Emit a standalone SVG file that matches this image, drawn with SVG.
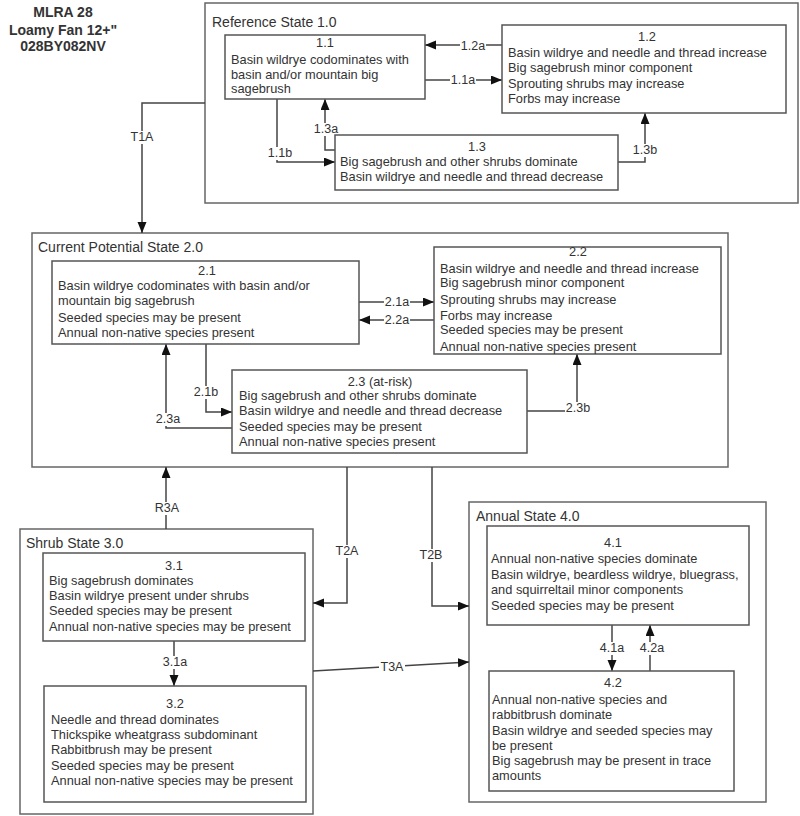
<svg xmlns="http://www.w3.org/2000/svg" width="800" height="816" viewBox="0 0 800 816">
<defs>
<marker id="ah" markerUnits="userSpaceOnUse" markerWidth="12" markerHeight="10" refX="11" refY="4.5" orient="auto">
<path d="M0,0 L11,4.5 L0,9 z" fill="#111"/>
</marker>
<style>
.state{fill:none;stroke:#666;stroke-width:1.5}
.box{fill:#fff;stroke:#555;stroke-width:1.5}
.st{font-family:"Liberation Sans",Arial,sans-serif;font-size:14px;fill:#333}
.t{font-family:"Liberation Sans",Arial,sans-serif;font-size:12.8px;fill:#333}
.c{text-anchor:middle}
.hd{font-family:"Liberation Sans",Arial,sans-serif;font-size:14px;font-weight:bold;fill:#333;text-anchor:middle}
.ln{fill:none;stroke:#444;stroke-width:1.5}
.bg{fill:#fff}
.lb{font-family:"Liberation Sans",Arial,sans-serif;font-size:12.5px;fill:#333;text-anchor:middle}
</style>
</defs>
<rect width="800" height="816" fill="#fff"/>
<g id="header">
<text class="hd" x="63" y="17">MLRA 28</text>
<text class="hd" x="63" y="35">Loamy Fan 12+"</text>
<text class="hd" x="63" y="51">028BY082NV</text>
</g>
<g id="state1">
<rect class="state" x="205" y="3" width="593" height="200"/>
<text class="st" x="212" y="27">Reference State 1.0</text>
</g>
<g id="state2">
<rect class="state" x="32" y="233" width="696" height="234"/>
<text class="st" x="38" y="252">Current Potential State 2.0</text>
</g>
<g id="state3">
<rect class="state" x="20" y="529" width="293" height="285"/>
<text class="st" x="26" y="548">Shrub State 3.0</text>
</g>
<g id="state4">
<rect class="state" x="469" y="502" width="297" height="300"/>
<text class="st" x="476" y="521">Annual State 4.0</text>
</g>
<g id="connectors">
<path class="ln" d="M205,103 H142 V233" marker-end="url(#ah)"/>
<path class="ln" d="M425,80 H502" marker-end="url(#ah)"/>
<path class="ln" d="M502,45 H425" marker-end="url(#ah)"/>
<path class="ln" d="M277,99 V162 H335" marker-end="url(#ah)"/>
<path class="ln" d="M335,150 H325 V99" marker-end="url(#ah)"/>
<path class="ln" d="M618,162 H645 V113" marker-end="url(#ah)"/>
<path class="ln" d="M359,302 H434" marker-end="url(#ah)"/>
<path class="ln" d="M434,320 H359" marker-end="url(#ah)"/>
<path class="ln" d="M206,344 V412 H232" marker-end="url(#ah)"/>
<path class="ln" d="M232,428 H166 V344" marker-end="url(#ah)"/>
<path class="ln" d="M527,411 H577 V354" marker-end="url(#ah)"/>
<path class="ln" d="M166,529 V467" marker-end="url(#ah)"/>
<path class="ln" d="M347,467 V603 H313" marker-end="url(#ah)"/>
<path class="ln" d="M432,467 V606 H469" marker-end="url(#ah)"/>
<path class="ln" d="M313,671 L469,662" marker-end="url(#ah)"/>
<path class="ln" d="M174,641 V686" marker-end="url(#ah)"/>
<path class="ln" d="M612,625 V671" marker-end="url(#ah)"/>
<path class="ln" d="M650,671 V625" marker-end="url(#ah)"/>
<rect class="bg" x="129" y="131" width="26" height="13"/>
<rect class="bg" x="450" y="74" width="26" height="13"/>
<rect class="bg" x="460" y="40" width="26" height="13"/>
<rect class="bg" x="267" y="147" width="26" height="13"/>
<rect class="bg" x="313" y="123" width="26" height="13"/>
<rect class="bg" x="632" y="144" width="26" height="13"/>
<rect class="bg" x="384" y="296" width="26" height="13"/>
<rect class="bg" x="384" y="314" width="26" height="13"/>
<rect class="bg" x="193" y="386" width="26" height="13"/>
<rect class="bg" x="155" y="413" width="26" height="13"/>
<rect class="bg" x="565" y="402" width="26" height="13"/>
<rect class="bg" x="154" y="502" width="26" height="13"/>
<rect class="bg" x="334" y="545" width="26" height="13"/>
<rect class="bg" x="418" y="549" width="26" height="13"/>
<rect class="bg" x="379" y="660" width="26" height="13"/>
<rect class="bg" x="162" y="656" width="26" height="13"/>
<rect class="bg" x="599" y="642" width="26" height="13"/>
<rect class="bg" x="639" y="642" width="26" height="13"/>
<text class="lb" x="142" y="141">T1A</text>
<text class="lb" x="463" y="84">1.1a</text>
<text class="lb" x="473" y="50">1.2a</text>
<text class="lb" x="280" y="157">1.1b</text>
<text class="lb" x="326" y="133">1.3a</text>
<text class="lb" x="645" y="154">1.3b</text>
<text class="lb" x="397" y="306">2.1a</text>
<text class="lb" x="397" y="324">2.2a</text>
<text class="lb" x="206" y="396">2.1b</text>
<text class="lb" x="168" y="423">2.3a</text>
<text class="lb" x="578" y="412">2.3b</text>
<text class="lb" x="167" y="512">R3A</text>
<text class="lb" x="347" y="555">T2A</text>
<text class="lb" x="431" y="559">T2B</text>
<text class="lb" x="392" y="671">T3A</text>
<text class="lb" x="175" y="666">3.1a</text>
<text class="lb" x="612" y="652">4.1a</text>
<text class="lb" x="652" y="652">4.2a</text>
</g>
<g id="n11">
<rect class="box" x="225" y="35" width="200" height="64"/>
<text class="t c" x="325" y="47">1.1</text>
<text class="t" x="231" y="64">Basin wildrye codominates with</text>
<text class="t" x="231" y="79">basin and/or mountain big</text>
<text class="t" x="231" y="93">sagebrush</text>
</g>
<g id="n12">
<rect class="box" x="502" y="25" width="284" height="88"/>
<text class="t c" x="647" y="41">1.2</text>
<text class="t" x="508" y="57">Basin wildrye and needle and thread increase</text>
<text class="t" x="508" y="72">Big sagebrush minor component</text>
<text class="t" x="508" y="88">Sprouting shrubs may increase</text>
<text class="t" x="508" y="103">Forbs may increase</text>
</g>
<g id="n13">
<rect class="box" x="335" y="135" width="283" height="55"/>
<text class="t c" x="477" y="151">1.3</text>
<text class="t" x="340" y="166">Big sagebrush and other shrubs dominate</text>
<text class="t" x="340" y="181">Basin wildrye and needle and thread decrease</text>
</g>
<g id="n21">
<rect class="box" x="52" y="261" width="307" height="83"/>
<text class="t c" x="207" y="275">2.1</text>
<text class="t" x="58" y="290">Basin wildrye codominates with basin and/or</text>
<text class="t" x="58" y="305">mountain big sagebrush</text>
<text class="t" x="58" y="322">Seeded species may be present</text>
<text class="t" x="58" y="337">Annual non-native species present</text>
</g>
<g id="n22">
<rect class="box" x="434" y="247" width="287" height="107"/>
<text class="t c" x="578" y="256">2.2</text>
<text class="t" x="440" y="273">Basin wildrye and needle and thread increase</text>
<text class="t" x="440" y="287">Big sagebrush minor component</text>
<text class="t" x="440" y="304">Sprouting shrubs may increase</text>
<text class="t" x="440" y="320">Forbs may increase</text>
<text class="t" x="440" y="334">Seeded species may be present</text>
<text class="t" x="440" y="351">Annual non-native species present</text>
</g>
<g id="n23">
<rect class="box" x="232" y="370" width="295" height="83"/>
<text class="t c" x="380" y="386">2.3 (at-risk)</text>
<text class="t" x="239" y="400">Big sagebrush and other shrubs dominate</text>
<text class="t" x="239" y="415">Basin wildrye and needle and thread decrease</text>
<text class="t" x="239" y="431">Seeded species may be present</text>
<text class="t" x="239" y="446">Annual non-native species present</text>
</g>
<g id="n31">
<rect class="box" x="43" y="553" width="262" height="88"/>
<text class="t c" x="174" y="570">3.1</text>
<text class="t" x="49" y="585">Big sagebrush dominates</text>
<text class="t" x="49" y="600">Basin wildrye present under shrubs</text>
<text class="t" x="49" y="615">Seeded species may be present</text>
<text class="t" x="49" y="631">Annual non-native species may be present</text>
</g>
<g id="n32">
<rect class="box" x="44" y="686" width="262" height="116"/>
<text class="t c" x="175" y="708">3.2</text>
<text class="t" x="51" y="724">Needle and thread dominates</text>
<text class="t" x="51" y="739">Thickspike wheatgrass subdominant</text>
<text class="t" x="51" y="754">Rabbitbrush may be present</text>
<text class="t" x="51" y="770">Seeded species may be present</text>
<text class="t" x="51" y="785">Annual non-native species may be present</text>
</g>
<g id="n41">
<rect class="box" x="487" y="526" width="262" height="99"/>
<text class="t c" x="613" y="547">4.1</text>
<text class="t" x="491" y="563">Annual non-native species dominate</text>
<text class="t" x="491" y="579">Basin wildrye, beardless wildrye, bluegrass,</text>
<text class="t" x="491" y="594">and squirreltail minor components</text>
<text class="t" x="491" y="610">Seeded species may be present</text>
</g>
<g id="n42">
<rect class="box" x="489" y="671" width="245" height="120"/>
<text class="t c" x="613" y="687">4.2</text>
<text class="t" x="492" y="704">Annual non-native species and</text>
<text class="t" x="492" y="719">rabbitbrush dominate</text>
<text class="t" x="492" y="735">Basin wildrye and seeded species may</text>
<text class="t" x="492" y="750">be present</text>
<text class="t" x="492" y="765">Big sagebrush may be present in trace</text>
<text class="t" x="492" y="780">amounts</text>
</g>
</svg>
